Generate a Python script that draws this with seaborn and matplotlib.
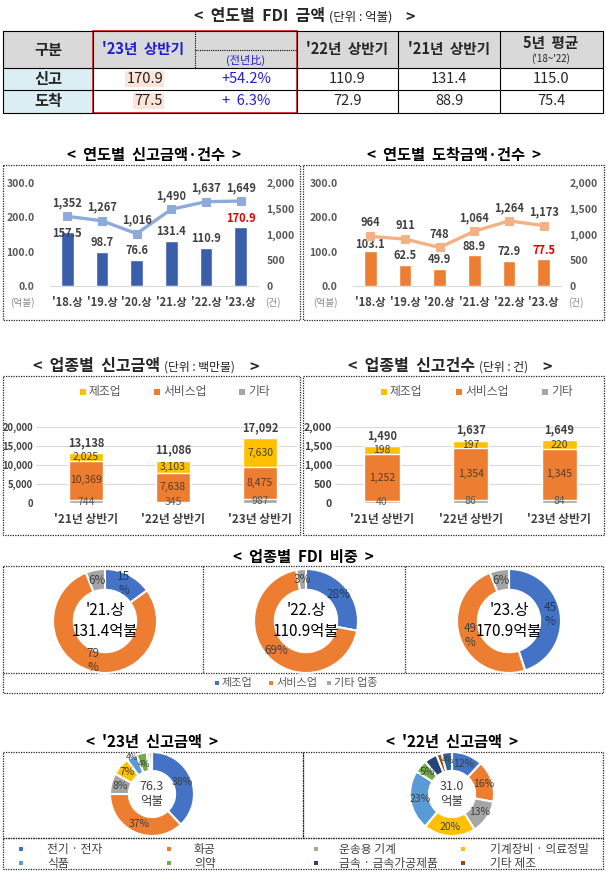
import numpy as np
import matplotlib
matplotlib.use('Agg')
import matplotlib.pyplot as plt
from matplotlib.patches import Rectangle
import seaborn as sns

# ---------------- data ----------------
tbl_rows = ['신고', '도착']
tbl_23h1 = [170.9, 77.5]
tbl_yoy = [54.2, 6.3]
tbl_22h1 = [110.9, 72.9]
tbl_21h1 = [131.4, 88.9]
tbl_avg5 = [115.0, 75.4]

periods = ["'18.상", "'19.상", "'20.상", "'21.상", "'22.상", "'23.상"]
rep_amt = [157.5, 98.7, 76.6, 131.4, 110.9, 170.9]
rep_cnt = [1352, 1267, 1016, 1490, 1637, 1649]
arr_amt = [103.1, 62.5, 49.9, 88.9, 72.9, 77.5]
arr_cnt = [964, 911, 748, 1064, 1264, 1173]

halves = ["'21년 상반기", "'22년 상반기", "'23년 상반기"]
sector_names = ['제조업', '서비스업', '기타']
amt_mfg = [2025, 3103, 7630]
amt_svc = [10369, 7638, 8475]
amt_oth = [744, 345, 987]
cnt_mfg = [198, 197, 220]
cnt_svc = [1252, 1354, 1345]
cnt_oth = [40, 86, 84]

fdi_names = ['제조업', '서비스업', '기타 업종']
fdi_periods = ["'21.상", "'22.상", "'23.상"]
fdi_totals = [131.4, 110.9, 170.9]
share_21 = [15, 79, 6]
share_22 = [28, 69, 3]
share_23 = [45, 49, 6]

ind_names = ['전기 · 전자', '화공', '운송용 기계', '기계장비 · 의료정밀',
             '식품', '의약', '금속 · 금속가공제품', '기타 제조']
ind23_vals = [38, 37, 8, 7, 4, 4, 1, 1]
ind23_lbls = ['38%', '37%', '8%', '7%', '4%', '4%', None, None]
ind23_total = 76.3
ind22_vals = [12, 16, 13, 20, 23, 5, 5, 2, 4]
ind22_lbls = ['12%', '16%', '13%', '20%', '23%', '5%', None, None, '4%']
ind22_total = 31.0

# ---------------- style ----------------
sns.set_style('white')
plt.rcParams['font.family'] = ['Noto Sans CJK KR', 'DejaVu Sans']
plt.rcParams['axes.unicode_minus'] = False

BLUE_BAR = '#3B5EAB'
BLUE_LINE = '#8EA9DB'
ORANGE = '#ED7D31'
ORANGE_LINE = '#F4B183'
YELLOW = '#FFC000'
GRAY = '#A5A5A5'
C_BLUE = '#4472C4'
IND_COLORS = ['#4472C4', '#ED7D31', '#A5A5A5', '#FFC000', '#5B9BD5',
              '#70AD47', '#264478', '#9E480E', '#2E6496']
TXT = '#404040'

W, H = 606, 883
fig = plt.figure(figsize=(W / 100, H / 100), dpi=100)
fig.patch.set_facecolor('white')

bg = fig.add_axes([0, 0, 1, 1])
bg.set_xlim(0, W)
bg.set_ylim(H, 0)
bg.axis('off')


def add_ax(x0, y0, x1, y1):
    return fig.add_axes([x0 / W, 1 - y1 / H, (x1 - x0) / W, (y1 - y0) / H])


DOT = (0, (1, 1))


def dbox(x0, y0, x1, y1):
    bg.add_patch(Rectangle((x0, y0), x1 - x0, y1 - y0, fill=False,
                           ec='#222222', lw=0.9, ls=DOT))


def ctitle(cx, y, s, size=11):
    bg.text(cx, y, s, fontsize=size, fontweight='bold', ha='center',
            va='center', color='black')


def stitle(x, y, main, sub, size=11, subsize=8.5, gap=8):
    t = bg.text(x, y, '<  ' + main, fontsize=size, fontweight='bold',
                ha='left', va='center')
    t2 = bg.annotate(sub, xy=(1, 0.45), xycoords=t, xytext=(3, 0),
                     textcoords='offset points', fontsize=subsize,
                     ha='left', va='center', color='#222222')
    bg.annotate('>', xy=(1, 0.5), xycoords=t2, xytext=(gap, 0),
                textcoords='offset points', fontsize=size,
                fontweight='bold', ha='left', va='center')


# ================= Section 1: table =================
stitle(194, 16, '연도별  FDI  금액', '(단위 : 억불)', size=11.5, subsize=9, gap=9)
ty = [31, 68, 90, 113]
bg.add_patch(Rectangle((3, 31), 600, 37, fc='#D9D9D9', ec='none'))
bg.add_patch(Rectangle((3, 68), 90, 45, fc='#DAEEF3', ec='none'))
for y in ty:
    bg.plot([3, 603], [y, y], color='black', lw=0.8)
for x in [3, 93, 297, 398, 500, 603]:
    bg.plot([x, x], [31, 113], color='black', lw=0.8)
bg.plot([195, 195], [31, 68], color='black', lw=0.8, ls=DOT)
bg.plot([195, 297], [50, 50], color='black', lw=0.8, ls=DOT)
bg.add_patch(Rectangle((93, 31), 204, 82, fill=False, ec='#E0282E', lw=1.3))

HB = '#1F1FCF'
bg.text(48, 50, '구분', fontsize=11, fontweight='bold', ha='center', va='center')
bg.text(143, 49, "'23년  상반기", fontsize=10.5, fontweight='bold', color=HB,
        ha='center', va='center')
bg.text(246, 60, '(전년比)', fontsize=8, color=HB, ha='center', va='center')
bg.text(347, 49, "'22년  상반기", fontsize=10.5, fontweight='bold', ha='center', va='center')
bg.text(449, 49, "'21년  상반기", fontsize=10.5, fontweight='bold', ha='center', va='center')
bg.text(551, 43, '5년  평균', fontsize=10.5, fontweight='bold', ha='center', va='center')
bg.text(551, 59, "('18~'22)", fontsize=7, ha='center', va='center')

row_y = [79, 101]
for i, r in enumerate(tbl_rows):
    y = row_y[i]
    v = tbl_yoy[i]
    yoy_s = f'+{v:.1f}%' if v >= 10 else f'+  {v:.1f}%'
    bg.text(48, y, r, fontsize=11, fontweight='bold', ha='center', va='center')
    bg.text(163, y, f'{tbl_23h1[i]:.1f}', fontsize=10.5, ha='right', va='center',
            color='#222222',
            bbox=dict(fc='#FCE4D6', ec='none', pad=1.0))
    bg.text(246, y, yoy_s, fontsize=10.5, ha='center', va='center', color=HB)
    bg.text(347, y, f'{tbl_22h1[i]:.1f}', fontsize=10.5, ha='center', va='center')
    bg.text(449, y, f'{tbl_21h1[i]:.1f}', fontsize=10.5, ha='center', va='center')
    bg.text(551, y, f'{tbl_avg5[i]:.1f}', fontsize=10.5, ha='center', va='center')


# ================= Section 2: combo charts =================
def combo(x0, x1, amts, cnts, bc, lc, first_off):
    ax = add_ax(x0, 183, x1, 286)
    sns.barplot(x=periods, y=amts, color=bc, saturation=1, width=0.36, ax=ax)
    ax.set_ylim(0, 300)
    ax.set_yticks([0, 100, 200, 300])
    ax.set_yticklabels([f'{v:.1f}' for v in [0, 100, 200, 300]])
    ax2 = ax.twinx()
    sns.lineplot(x=np.arange(len(cnts)), y=cnts, color=lc, marker='s',
                 markersize=5.5, markeredgecolor=lc, linewidth=2.4, ax=ax2)
    ax2.set_ylim(0, 2000)
    ax2.set_yticks([0, 500, 1000, 1500, 2000])
    ax2.set_yticklabels([f'{v:,}' for v in [0, 500, 1000, 1500, 2000]])
    ax.set_xlim(-0.5, len(periods) - 0.5)
    for a in (ax, ax2):
        for s in a.spines.values():
            s.set_visible(False)
        a.set_xlabel('')
        a.set_ylabel('')
    ax.spines['bottom'].set_visible(True)
    ax.spines['bottom'].set_color('#D9D9D9')
    ax.tick_params(axis='y', length=0, pad=11, labelsize=7.5, labelcolor='#595959')
    ax2.tick_params(axis='y', length=0, pad=6, labelsize=7.5, labelcolor='#595959')
    ax.tick_params(axis='x', length=0, pad=7, labelsize=8, labelcolor=TXT)
    for lb in ax.get_yticklabels() + ax2.get_yticklabels() + ax.get_xticklabels():
        lb.set_fontweight('bold')
    for i, v in enumerate(amts):
        off = first_off if i == 0 else 2
        ax.annotate(f'{v:.1f}', (i, v), xytext=(0, off), textcoords='offset points',
                    ha='center', va='bottom', fontsize=8, fontweight='bold',
                    color='#E00000' if i == len(amts) - 1 else TXT)
    for i, v in enumerate(cnts):
        ax2.annotate(f'{v:,}', (i, v), xytext=(0, 5), textcoords='offset points',
                     ha='center', va='bottom', fontsize=8, fontweight='bold',
                     color=TXT)
    return ax


ctitle(154, 155, '<  연도별  신고금액·건수  >')
ctitle(454, 155, '<  연도별  도착금액·건수  >')
dbox(3, 165, 300, 320)
dbox(303, 165, 604, 320)
combo(50, 258, rep_amt, rep_cnt, BLUE_BAR, BLUE_LINE, -6)
combo(353, 561, arr_amt, arr_cnt, ORANGE, ORANGE_LINE, 0)
for xo in (0, 303):
    bg.text(22 + xo, 303, '(억불)', fontsize=7, color='#8C8C8C', ha='center', va='center')
    bg.text(273 + xo, 303, '(건)', fontsize=7, color='#8C8C8C', ha='center', va='center')


# ================= Section 3: stacked bars =================
def stacked(x0, x1, xl, mfg, svc, oth, ymax, step, ysize):
    ax = add_ax(x0, 427, x1, 503)
    tot = [a + b + c for a, b, c in zip(mfg, svc, oth)]
    low2 = [b + c for b, c in zip(svc, oth)]
    sns.barplot(x=halves, y=tot, color=YELLOW, saturation=1, width=0.4, ax=ax)
    sns.barplot(x=halves, y=low2, color=ORANGE, saturation=1, width=0.4, ax=ax)
    sns.barplot(x=halves, y=oth, color=GRAY, saturation=1, width=0.4, ax=ax)
    ax.set_xlim(*xl)
    ax.set_ylim(0, ymax)
    ticks = list(range(0, ymax + 1, step))
    ax.set_yticks(ticks)
    ax.set_yticklabels([f'{t:,}' for t in ticks])
    ax.yaxis.grid(True, color='#D9D9D9', lw=0.8)
    ax.set_axisbelow(True)
    for s in ax.spines.values():
        s.set_visible(False)
    ax.set_xlabel('')
    ax.set_ylabel('')
    ax.tick_params(axis='y', length=0, pad=2, labelsize=ysize, labelcolor='#404040')
    ax.tick_params(axis='x', length=0, pad=7, labelsize=8.5, labelcolor=TXT)
    for lb in ax.get_yticklabels() + ax.get_xticklabels():
        lb.set_fontweight('bold')
    for i in range(len(halves)):
        ax.text(i, oth[i] / 2, f'{oth[i]:,}', ha='center', va='center',
                fontsize=7.5, color='#595959')
        ax.text(i, oth[i] + svc[i] / 2, f'{svc[i]:,}', ha='center', va='center',
                fontsize=7.5, color='#5A3A22')
        ax.text(i, oth[i] + svc[i] + mfg[i] / 2, f'{mfg[i]:,}', ha='center',
                va='center', fontsize=7.5, color=TXT)
        ax.annotate(f'{tot[i]:,}', (i, tot[i]), xytext=(0, 3),
                    textcoords='offset points', ha='center', va='bottom',
                    fontsize=8, fontweight='bold', color=TXT)


def sec_legend(mx, tx, y, names, colors, size=8, ms=5):
    for m, t, n, c in zip(mx, tx, names, colors):
        bg.add_patch(Rectangle((m - ms / 2, y - ms / 2), ms, ms, fc=c, ec='none'))
        bg.text(t, y, n, fontsize=size, ha='left', va='center', color='#595959')


stitle(33, 366, '업종별  신고금액', '(단위 : 백만불)', size=11.5, subsize=8.5, gap=10)
stitle(348, 366, '업종별  신고건수', '(단위 : 건)', size=11.5, subsize=8.5, gap=10)
dbox(3, 376, 300, 535)
dbox(303, 376, 604, 535)
sec_legend([83, 157, 242], [89, 163, 248], 392, sector_names, [YELLOW, ORANGE, GRAY],
           size=8.5, ms=6)
sec_legend([384, 459, 545], [390, 465, 551], 392, sector_names, [YELLOW, ORANGE, GRAY],
           size=8.5, ms=6)
stacked(36, 297, (-0.575, 2.425), amt_mfg, amt_svc, amt_oth, 20000, 5000, 6.8)
stacked(335, 600, (-0.53, 2.46), cnt_mfg, cnt_svc, cnt_oth, 2000, 500, 7.5)


# ================= Section 4: FDI share donuts =================
def donut(cx, cy, r, vals, colors, labels, center, width, lab_r, lsize, csize,
          ccolor='black', lcolors=None, small_size=None, small_radii=None):
    ax = add_ax(cx - r, cy - r, cx + r, cy + r)
    ax.pie(vals, colors=colors, startangle=90, counterclock=False, radius=1,
           wedgeprops=dict(width=width, edgecolor='white', linewidth=1.5))
    ax.set_xlim(-1, 1)
    ax.set_ylim(-1, 1)
    ax.set_aspect('equal')
    ax.axis('off')
    tot = float(sum(vals))
    cum = 0.0
    n_small = 0
    for i, v in enumerate(vals):
        mid = (cum + v / 2) / tot
        cum += v
        if labels[i] is None:
            continue
        ang = np.deg2rad(90 - 360 * mid)
        small = small_size is not None and v < 5
        fs = small_size if small else lsize
        if small:
            rr = small_radii[n_small % len(small_radii)]
            n_small += 1
        else:
            rr = lab_r
        ax.text(rr * np.cos(ang), rr * np.sin(ang), labels[i], ha='center',
                va='center', fontsize=fs,
                color=TXT if lcolors is None else lcolors[i], linespacing=1.1)
    ax.text(0, 0, center, ha='center', va='center', fontsize=csize, color=ccolor,
            linespacing=1.25)


def pct_labels(vals, wrap):
    return [f'{v}\n%' if w else f'{v}%' for v, w in zip(vals, wrap)]


ctitle(303, 557, '<  업종별  FDI  비중  >')
dbox(3, 566, 603, 693)
bg.plot([203, 203], [566, 673], color='#222222', lw=0.9, ls=DOT)
bg.plot([405, 405], [566, 673], color='#222222', lw=0.9, ls=DOT)
bg.plot([3, 603], [673, 673], color='#222222', lw=0.9, ls=DOT)
fdi_colors = [C_BLUE, ORANGE, GRAY]
shares = [share_21, share_22, share_23]
wraps = [[True, True, False], [False, False, False], [True, True, False]]
centers = [105, 306, 509]
for k in range(3):
    donut(centers[k], 621, 52, shares[k], fdi_colors,
          pct_labels(shares[k], wraps[k]),
          f'{fdi_periods[k]}\n{fdi_totals[k]}억불', 0.4, 0.8, 8.5, 11,
          lcolors=['#1F3864', TXT, TXT])
sec_legend([217, 271, 329], [222, 276, 334], 683, fdi_names, fdi_colors,
           size=8, ms=4)


# ================= Section 5: industry donuts =================
ctitle(152, 742, "<  '23년  신고금액  >")
ctitle(452, 742, "<  '22년  신고금액  >")
dbox(3, 752, 303, 838)
dbox(303, 752, 603, 838)
dbox(3, 838, 603, 869)
donut(152, 794, 42, ind23_vals, IND_COLORS[:len(ind23_vals)], ind23_lbls,
      f'{ind23_total}\n억불', 0.45, 0.78, 7.5, 9, ccolor=TXT, small_size=6,
      small_radii=[1.0, 0.72])
donut(452, 794, 42, ind22_vals, IND_COLORS[:len(ind22_vals)], ind22_lbls,
      f'{ind22_total}\n억불', 0.45, 0.78, 7.5, 9, ccolor=TXT, small_size=6,
      small_radii=[0.8])
mx = [21, 169, 316, 463]
tx = [47, 194, 339, 490]
for i, n in enumerate(ind_names):
    r, c = divmod(i, 4)
    y = 849 + 14 * r
    bg.add_patch(Rectangle((mx[c] - 2, y - 2), 4, 4, fc=IND_COLORS[i], ec='none'))
    bg.text(tx[c], y, n, fontsize=8.5, ha='left', va='center', color=TXT)

fig.savefig('out.png', dpi=100, facecolor='white')
